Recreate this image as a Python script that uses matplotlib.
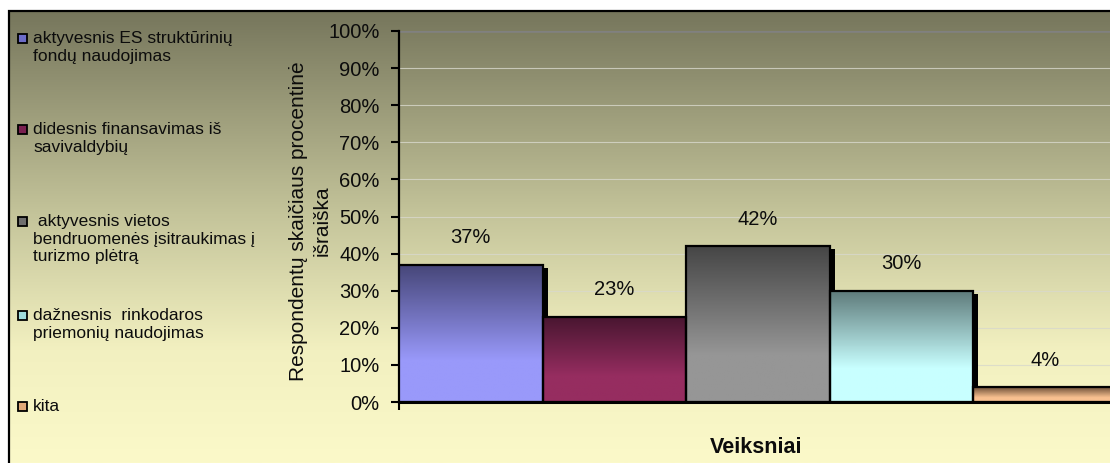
import numpy as np
import matplotlib
matplotlib.use('Agg')
import matplotlib.pyplot as plt
import matplotlib.patheffects as pe
from matplotlib.colors import LinearSegmentedColormap
from matplotlib.patches import Rectangle
from matplotlib.ticker import PercentFormatter

plt.rcParams['font.family'] = ['Liberation Sans', 'DejaVu Sans']

# Data
categories = ['aktyvesnis ES struktūrinių\nfondų naudojimas',
              'didesnis finansavimas iš\nsavivaldybių',
              ' aktyvesnis vietos\nbendruomenės įsitraukimas į\nturizmo plėtrą',
              'dažnesnis  rinkodaros\npriemonių naudojimas',
              'kita']
values = [0.37, 0.23, 0.42, 0.30, 0.04]
ylabel = 'Respondentų skaičiaus procentinė\nišraiška'
xlabel = 'Veiksniai'

# top (dark) / bottom (light) colours of each bar gradient
tops = ['#464678', '#481630', '#464646', '#5e7a7a', '#6e5038']
bottoms = ['#9999fa', '#962d60', '#969696', '#c8ffff', '#f8c090']
legend_cols = ['#6c6cc8', '#7a2050', '#6e6e6e', '#9fdcdc', '#e0a878']

W, H = 1110, 463
fig = plt.figure(figsize=(W/100, H/100), dpi=100, facecolor='white')

# chart area background (vertical gradient)
bg = fig.add_axes([9/W, 0, 1 - 9/W, 1 - 11/H], zorder=-5)
bg_cmap = LinearSegmentedColormap.from_list(
    'bg', [(0, '#76765c'), (0.45, '#c4c49a'), (0.75, '#f2f0c0'), (1, '#fbf9c9')])
bg.imshow(np.linspace(0, 1, 256).reshape(-1, 1), aspect='auto', cmap=bg_cmap,
          extent=[0, 1, 0, 1])
bg.set_axis_off()
fig.patches.append(Rectangle((9/W, -0.1), 1.2, 1 - 11/H + 0.1, transform=fig.transFigure,
                             fill=False, edgecolor='black', lw=1.6, zorder=-4))

# plot area
ax = fig.add_axes([399/W, (H - 402)/H, 718/W, 371/H])
ax.patch.set_alpha(0)
x = np.arange(len(values))

shadow = [pe.SimplePatchShadow(offset=(3.6, -2.2), shadow_rgbFace='black', alpha=1), pe.Normal()]
bars = ax.bar(x, values, width=1, color=bottoms, edgecolor='none', zorder=3,
              path_effects=shadow)

# gradient fill for each bar, clipped to the bar
for b, c0, c1 in zip(bars, tops, bottoms):
    cm = LinearSegmentedColormap.from_list('g', [(0, c0), (0.7, c1), (1, c1)])
    im = ax.imshow(np.linspace(0, 1, 128).reshape(-1, 1), aspect='auto', cmap=cm,
                   extent=[b.get_x(), b.get_x() + b.get_width(), 0, b.get_height()],
                   zorder=3.5, interpolation='bilinear')
    im.set_clip_path(b)

ax.bar(x, values, width=1, fill=False, edgecolor='black', lw=1.6, zorder=4)

for xi, v in zip(x, values):
    ax.annotate(f'{v:.0%}', (xi, v), xytext=(0, 19.5), textcoords='offset points',
                ha='center', va='center', fontsize=14.5, color='#0c0c0c')

ax.set_xlim(-0.5, 4.5)
ax.set_ylim(0, 1)
ax.set_yticks(np.arange(0, 1.01, 0.1))
ax.yaxis.set_major_formatter(PercentFormatter(1, decimals=0))
ax.tick_params(axis='y', direction='out', length=6, width=1.5, labelsize=14.5, pad=8,
               labelcolor='#0c0c0c')
ax.set_xticks([-0.5])
ax.set_xticklabels([''])
ax.tick_params(axis='x', direction='out', length=6, width=1.5)
ax.yaxis.grid(True, color='#d8d8cc', lw=0.8, alpha=0.8, zorder=1)
ax.axhline(1.0, color='#808080', lw=1.8, zorder=2)
ax.set_axisbelow(True)
for s in ['top', 'right']:
    ax.spines[s].set_visible(False)
ax.spines['left'].set_linewidth(1.6)
ax.spines['bottom'].set_linewidth(2.2)
ax.spines['bottom'].set_zorder(5)

ax.set_xlabel(xlabel, fontsize=15.5, fontweight='bold', color='#0c0c0c')
ax.xaxis.set_label_coords((756 - 399)/718, -(437 - 402)/371)

fig.text(310/W, 1 - 221/H, ylabel, rotation=90, ha='center', va='center',
         multialignment='center', fontsize=15, linespacing=1.3, color='#0c0c0c')

# legend, drawn by hand
entry_y = [31, 122, 214, 308, 399]
for lab, col, yy in zip(categories, legend_cols, entry_y):
    fig.patches.append(Rectangle((18/W, 1 - (yy + 12)/H), 9/W, 9/H, transform=fig.transFigure,
                                 facecolor=col, edgecolor='black', lw=1.3))
    fig.text(33/W, 1 - yy/H, lab, ha='left', va='top', fontsize=12.5, linespacing=1.22,
             color='#0c0c0c')

fig.savefig('out.png', dpi=100)
